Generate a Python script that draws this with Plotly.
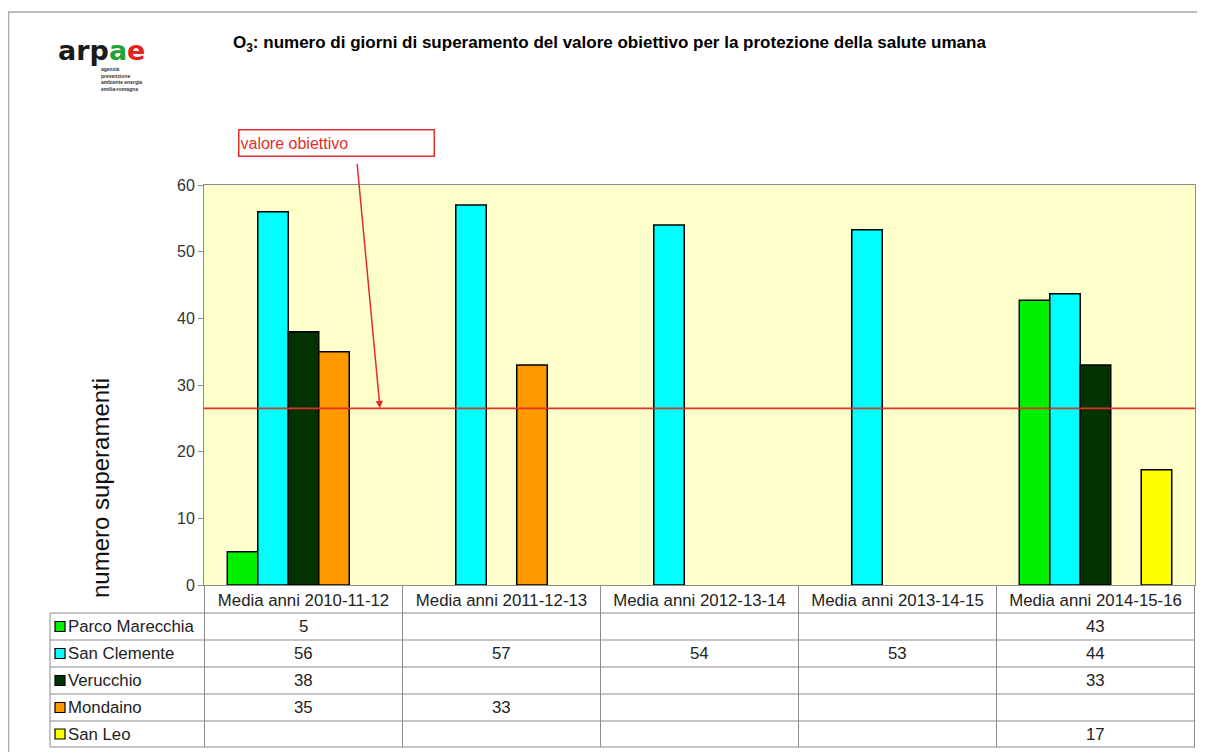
import plotly.graph_objects as go

categories = ["Media anni 2010-11-12", "Media anni 2011-12-13", "Media anni 2012-13-14",
              "Media anni 2013-14-15", "Media anni 2014-15-16"]
series_names = ["Parco Marecchia", "San Clemente", "Verucchio", "Mondaino", "San Leo"]
parco_marecchia = [5, None, None, None, 42.7]
san_clemente = [56, 57, 54, 53.3, 43.7]
verucchio = [38, None, None, None, 33]
mondaino = [35, 33, None, None, None]
san_leo = [None, None, None, None, 17.3]
series_values = [parco_marecchia, san_clemente, verucchio, mondaino, san_leo]
series_colors = ["#00F000", "#00FFFF", "#003300", "#FF9900", "#FFFF00"]
target_value = 26.5
y_ticks = [0, 10, 20, 30, 40, 50, 60]

# page offset (body margin) compensation
OFF = 8
W, H = 1205 - OFF, 752 - OFF
PLOT_L, PLOT_R, PLOT_T, PLOT_B = 204, 1195, 185, 585  # in screen pixels
L = PLOT_L - OFF
T = PLOT_T - OFF
PW = PLOT_R - PLOT_L
PH = PLOT_B - PLOT_T
R = W - L - PW
B = H - T - PH


def px(x):
    return (x - PLOT_L) / PW


def py(y):
    return (PLOT_B - y) / PH


FONT = "Liberation Sans, Arial, sans-serif"
GRID = "#8C8C8C"

fig = go.Figure()
for name, vals, col in zip(series_names, series_values, series_colors):
    fig.add_trace(go.Bar(
        x=categories, y=vals, name=name,
        marker=dict(color=col, line=dict(color="#000000", width=1.5)),
        showlegend=False,
    ))

shapes = []
annotations = []

# target line
shapes.append(dict(type="line", xref="paper", yref="y", x0=0, x1=1, y0=target_value, y1=target_value,
                   line=dict(color="#E0302A", width=1.6)))

# table rows (pixel row boundaries)
row_lines = [613, 640, 667, 694, 721, 747]
for yy in row_lines:
    shapes.append(dict(type="line", xref="paper", yref="paper", x0=px(50), x1=1, y0=py(yy), y1=py(yy),
                       line=dict(color=GRID, width=1)))
for i in range(len(categories) + 1):
    shapes.append(dict(type="line", xref="x", yref="paper", x0=i - 0.5, x1=i - 0.5, y0=py(747), y1=0,
                       line=dict(color=GRID, width=1)))
shapes.append(dict(type="line", xref="paper", yref="paper", x0=px(50), x1=px(50), y0=py(747), y1=py(613),
                   line=dict(color=GRID, width=1)))

TFS = 16.8
for r, (name, vals, col) in enumerate(zip(series_names, series_values, series_colors)):
    yc = (row_lines[r] + row_lines[r + 1]) / 2
    shapes.append(dict(type="rect", xref="paper", yref="paper", x0=px(55), x1=px(65),
                       y0=py(yc + 5), y1=py(yc - 5), fillcolor=col, line=dict(color="#000000", width=1.2)))
    annotations.append(dict(text=name, xref="paper", yref="paper", x=px(66), y=py(yc), xanchor="left",
                            yanchor="middle", showarrow=False, font=dict(family=FONT, size=TFS, color="#222")))
    for c, v in enumerate(vals):
        if v is not None:
            annotations.append(dict(text=str(round(v)), xref="x", yref="paper", x=c, y=py(yc),
                                    xanchor="center", yanchor="middle", showarrow=False,
                                    font=dict(family=FONT, size=TFS, color="#222")))

# outer frame
shapes.append(dict(type="line", xref="paper", yref="paper", x0=px(8), x1=px(1210), y0=py(12), y1=py(12),
                   line=dict(color="#A8A8A8", width=1.5)))
shapes.append(dict(type="line", xref="paper", yref="paper", x0=px(8.5), x1=px(8.5), y0=py(12), y1=py(760),
                   line=dict(color="#A8A8A8", width=1.5)))

# title
annotations.append(dict(text="<b>O<sub>3</sub>: numero di giorni di superamento del valore obiettivo per la protezione della salute umana</b>",
                        xref="paper", yref="paper", x=px(231), y=py(44), xanchor="left", yanchor="middle",
                        showarrow=False, font=dict(family=FONT, size=17, color="#000")))
# logo
annotations.append(dict(text="<b>arp<span style='color:#22A23A'>a</span><span style='color:#E2231A'>e</span></b>",
                        xref="paper", yref="paper", x=px(56), y=py(50), xanchor="left", yanchor="middle",
                        showarrow=False, font=dict(family="DejaVu Sans, sans-serif", size=27, color="#1a1a1a")))
annotations.append(dict(text="<b>agenzia<br>prevenzione<br>ambiente energia<br>emilia-romagna</b>",
                        xref="paper", yref="paper", x=px(99), y=py(79), xanchor="left", yanchor="middle",
                        align="left", showarrow=False,
                        font=dict(family=FONT, size=5, color="#333")))
# y title
annotations.append(dict(text="numero superamenti", xref="paper", yref="paper", x=px(100), y=py(488),
                        textangle=-90, xanchor="center", yanchor="middle", showarrow=False,
                        font=dict(family=FONT, size=24, color="#111")))
# target box
annotations.append(dict(text="valore obiettivo", xref="paper", yref="paper", x=px(336.5), y=py(142.5),
                        xanchor="center", yanchor="middle", showarrow=False, align="left",
                        width=192, height=23, bordercolor="#E0302A", borderwidth=1.5, borderpad=1,
                        font=dict(family=FONT, size=16, color="#E0302A")))
annotations.append(dict(text="", xref="paper", yref="y", x=px(380), y=target_value,
                        ax=-23, ay=-246, axref="pixel", ayref="pixel", showarrow=True,
                        arrowhead=2, arrowsize=1, arrowwidth=1.5, arrowcolor="#E0302A"))

fig.update_layout(
    width=W, height=H,
    margin=dict(l=L, r=R, t=T, b=B),
    paper_bgcolor="#FFFFFF",
    plot_bgcolor="#FFFFCC",
    barmode="group", bargap=0.23, bargroupgap=0,
    font=dict(family=FONT, color="#222"),
    shapes=shapes, annotations=annotations,
    xaxis=dict(showline=True, linecolor=GRID, mirror=True, ticks="", showgrid=False,
               tickfont=dict(family=FONT, size=TFS, color="#222"), fixedrange=True),
    yaxis=dict(range=[0, 60], tickvals=y_ticks, showline=True, linecolor=GRID, mirror=True,
               ticks="outside", ticklen=5, tickcolor=GRID, showgrid=False, zeroline=False,
               tickfont=dict(family=FONT, size=16, color="#333")),
)
fig.write_html("out.html")
